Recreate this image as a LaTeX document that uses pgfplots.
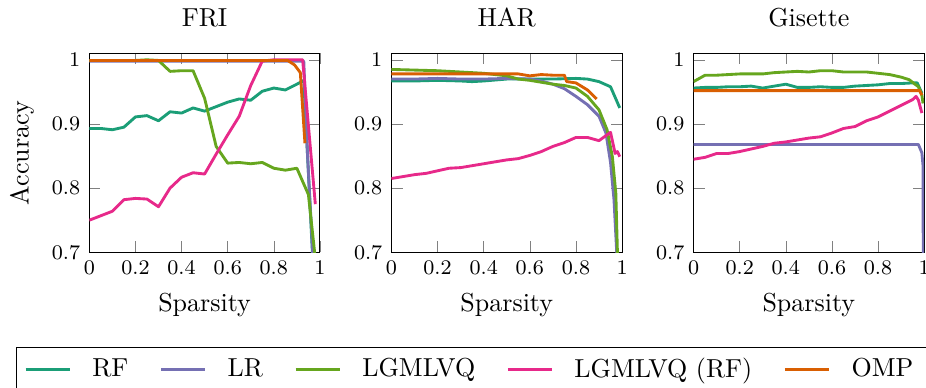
\documentclass[border=0pt]{standalone}
\usepackage{pgfplots}
\pgfplotsset{compat=1.18}
\definecolor{cRF}{HTML}{1B9E77}
\definecolor{cLR}{HTML}{7570B3}
\definecolor{cLG}{HTML}{66A61E}
\definecolor{cLGRF}{HTML}{E7298A}
\definecolor{cOMP}{HTML}{D95F02}
\pgfplotsset{
  myax/.style={
    width=88.7pt, height=76.5pt, scale only axis,
    xmin=0, xmax=1, ymin=0.7, ymax=1.01,
    xtick={0,0.2,0.4,0.6,0.8,1}, ytick={0.7,0.8,0.9,1},
    tick label style={font=\footnotesize},
    xlabel={Sparsity},
    title style={yshift=0.5pt},
    every axis plot/.append style={line width=1.1pt, line join=round, no marks},
  },
}
\begin{document}
\begin{tikzpicture}
% ---------------- FRI ----------------
\begin{axis}[myax, name=a1, title={FRI}, ylabel={Accuracy},
  legend style={at={(-0.318,-0.476)}, anchor=north west, legend columns=5, draw=black, font=\normalsize,
    /tikz/every odd column/.append style={column sep=6pt},
    /tikz/every even column/.append style={column sep=10pt}},
  legend image post style={line width=1.1pt}]
\addplot[cRF] coordinates {(0,.893)(.05,.893)(.1,.891)(.15,.895)(.2,.911)(.25,.913)(.3,.905)(.35,.919)(.4,.917)(.45,.925)(.5,.920)(.55,.927)(.6,.934)(.65,.939)(.7,.937)(.75,.951)(.8,.956)(.85,.953)(.9,.962)(.93,.968)(.97,.68)};
\addlegendentry{RF}
\addplot[cLR] coordinates {(0,.998)(.1,.998)(.2,.998)(.3,.998)(.4,.998)(.5,.998)(.6,.998)(.7,.998)(.8,.998)(.9,.998)(.93,.998)(.945,.86)(.97,.69)(.99,.5)};
\addlegendentry{LR}
\addplot[cLG] coordinates {(0,.999)(.05,.999)(.1,.999)(.15,.999)(.2,.999)(.25,1.0)(.3,.999)(.35,.982)(.4,.983)(.45,.983)(.5,.940)(.55,.865)(.6,.839)(.65,.840)(.7,.838)(.75,.840)(.8,.831)(.85,.828)(.9,.831)(.95,.790)(.98,.69)(.99,.6)};
\addlegendentry{LGMLVQ}
\addplot[cLGRF] coordinates {(0,.750)(.05,.757)(.1,.764)(.15,.782)(.2,.784)(.25,.783)(.3,.771)(.35,.800)(.4,.817)(.45,.824)(.5,.822)(.55,.853)(.6,.883)(.65,.912)(.7,.960)(.75,.998)(.8,1)(.85,1)(.9,1)(.925,1)(.98,.775)};
\addlegendentry{LGMLVQ (RF)}
\addplot[cOMP] coordinates {(0,.999)(.1,.999)(.2,.999)(.3,.999)(.4,.999)(.5,.999)(.6,.999)(.7,.999)(.8,.999)(.86,.999)(.89,.992)(.915,.980)(.935,.870)};
\addlegendentry{OMP}
\end{axis}
% ---------------- HAR ----------------
\begin{axis}[myax, at={(116.2pt,0pt)}, title={HAR}]
\addplot[cRF] coordinates {(0,.967)(.1,.967)(.2,.968)(.3,.967)(.35,.966)(.4,.967)(.5,.970)(.6,.970)(.7,.970)(.8,.971)(.85,.970)(.9,.966)(.95,.958)(.99,.925)};
\addplot[cLR] coordinates {(0,.970)(.1,.970)(.2,.971)(.3,.970)(.4,.970)(.5,.971)(.6,.970)(.65,.967)(.7,.962)(.75,.955)(.8,.943)(.85,.930)(.9,.912)(.93,.886)(.95,.84)(.965,.782)(.977,.699)(.99,.55)};
\addplot[cLG] coordinates {(0,.985)(.1,.984)(.2,.983)(.3,.981)(.4,.979)(.5,.975)(.55,.970)(.6,.968)(.65,.965)(.7,.962)(.75,.960)(.8,.956)(.85,.943)(.9,.922)(.935,.891)(.958,.849)(.973,.792)(.98,.699)(.99,.55)};
\addplot[cLGRF] coordinates {(0,.815)(.05,.818)(.1,.821)(.15,.823)(.2,.827)(.25,.831)(.3,.832)(.35,.835)(.4,.838)(.45,.841)(.5,.844)(.55,.846)(.6,.851)(.65,.857)(.7,.865)(.75,.871)(.8,.879)(.85,.879)(.9,.874)(.95,.887)(.97,.854)(.98,.857)(.99,.849)};
\addplot[cOMP] coordinates {(0,.978)(.1,.978)(.2,.978)(.3,.978)(.4,.978)(.5,.978)(.55,.978)(.6,.975)(.65,.977)(.7,.976)(.75,.976)(.76,.966)(.8,.964)(.85,.953)(.89,.939)};
\end{axis}
% ---------------- Gisette ----------------
\begin{axis}[myax, at={(232.4pt,0pt)}, title={Gisette}]
\addplot[cRF] coordinates {(0,.956)(.05,.957)(.1,.957)(.15,.958)(.2,.958)(.25,.959)(.3,.956)(.35,.959)(.4,.962)(.45,.957)(.5,.957)(.55,.958)(.6,.957)(.65,.957)(.7,.959)(.75,.960)(.8,.961)(.85,.963)(.9,.963)(.95,.964)(.97,.964)(.99,.948)};
\addplot[cLR] coordinates {(0,.868)(.1,.868)(.2,.868)(.3,.868)(.4,.868)(.5,.868)(.6,.868)(.7,.868)(.8,.868)(.9,.868)(.975,.868)(.99,.855)(.995,.835)(.997,.5)};
\addplot[cLG] coordinates {(0,.966)(.05,.976)(.1,.976)(.15,.977)(.2,.978)(.25,.978)(.3,.978)(.35,.980)(.4,.981)(.45,.982)(.5,.981)(.55,.983)(.6,.983)(.65,.981)(.7,.981)(.75,.981)(.8,.979)(.85,.977)(.9,.973)(.935,.969)(.96,.962)(.975,.958)(.99,.945)(.995,.932)};
\addplot[cLGRF] coordinates {(0,.845)(.05,.848)(.1,.854)(.15,.854)(.2,.857)(.25,.861)(.3,.865)(.35,.870)(.4,.872)(.45,.875)(.5,.878)(.55,.880)(.6,.886)(.65,.893)(.7,.896)(.75,.905)(.8,.911)(.85,.920)(.9,.929)(.95,.938)(.965,.943)(.975,.937)(.99,.917)};
\addplot[cOMP] coordinates {(0,.952)(.2,.952)(.4,.952)(.6,.952)(.8,.952)(.98,.952)(.99,.945)};
\end{axis}
\pgfresetboundingbox
\path[use as bounding box] (-34.35pt,-52.19pt) rectangle (321.8pt,97.04pt);
\end{tikzpicture}
\end{document}
